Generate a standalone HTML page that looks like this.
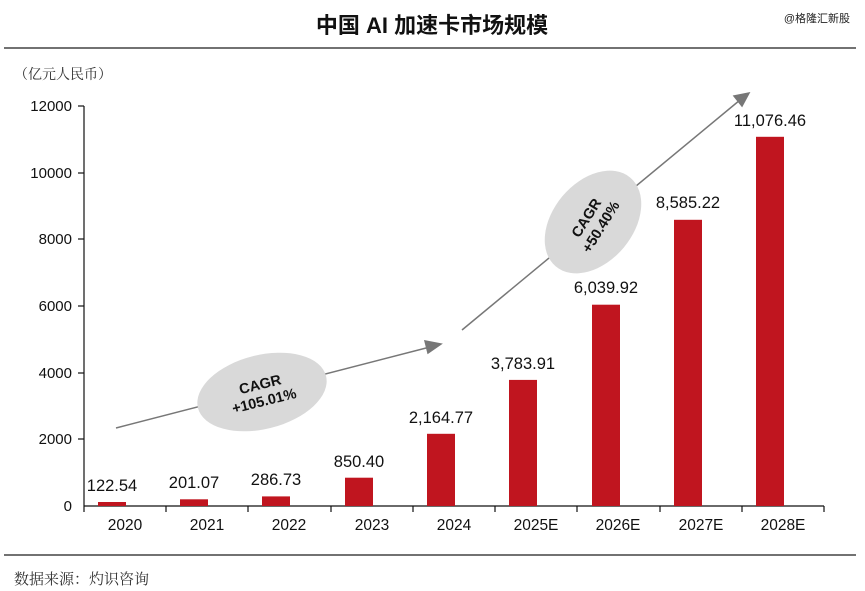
<!DOCTYPE html><html><head><meta charset="utf-8"><style>body{margin:0;background:#fff}svg{display:block}text{font-family:"Liberation Sans","Noto Sans CJK SC",sans-serif}</style></head><body>
<svg width="865" height="591" viewBox="0 0 865 591">
<text x="432" y="33" text-anchor="middle" font-size="22" font-weight="bold" fill="#111">中国 AI 加速卡市场规模</text>
<text x="850" y="22" text-anchor="end" font-size="11" fill="#222">@格隆汇新股</text>
<line x1="4" y1="48" x2="856" y2="48" stroke="#444" stroke-width="1.5"/>
<text x="14" y="79" font-size="14" fill="#333" style="font-family:'Liberation Serif','Noto Serif CJK SC',serif">（亿元人民币）</text>
<g font-size="15" fill="#111" text-anchor="end">
<text x="72" y="111">12000</text><text x="72" y="178">10000</text><text x="72" y="244">8000</text><text x="72" y="311">6000</text><text x="72" y="378">4000</text><text x="72" y="444">2000</text><text x="72" y="511">0</text></g>
<g stroke="#111" stroke-width="1.2">
<line x1="84" y1="106" x2="84" y2="506"/><line x1="84" y1="506" x2="824" y2="506"/>
<line x1="78" y1="106" x2="84" y2="106"/><line x1="78" y1="173" x2="84" y2="173"/><line x1="78" y1="239" x2="84" y2="239"/><line x1="78" y1="306" x2="84" y2="306"/><line x1="78" y1="373" x2="84" y2="373"/><line x1="78" y1="439" x2="84" y2="439"/>
<line x1="84" y1="506" x2="84" y2="512"/><line x1="166" y1="506" x2="166" y2="512"/><line x1="248" y1="506" x2="248" y2="512"/><line x1="331" y1="506" x2="331" y2="512"/><line x1="413" y1="506" x2="413" y2="512"/><line x1="495" y1="506" x2="495" y2="512"/><line x1="577" y1="506" x2="577" y2="512"/><line x1="660" y1="506" x2="660" y2="512"/><line x1="742" y1="506" x2="742" y2="512"/><line x1="824" y1="506" x2="824" y2="512"/>
</g>
<g fill="#c0151f">
<rect x="98" y="502" width="28" height="4"/><rect x="180" y="499.3" width="28" height="6.7"/><rect x="262" y="496.4" width="28" height="9.6"/><rect x="345" y="477.7" width="28" height="28.3"/><rect x="427" y="433.8" width="28" height="72.2"/><rect x="509" y="379.9" width="28" height="126.1"/><rect x="592" y="304.7" width="28" height="201.3"/><rect x="674" y="219.8" width="28" height="286.2"/><rect x="756" y="136.8" width="28" height="369.2"/>
</g>
<g font-size="16.5" fill="#111" text-anchor="middle">
<text x="112" y="491">122.54</text><text x="194" y="488">201.07</text><text x="276" y="485">286.73</text><text x="359" y="467">850.40</text><text x="441" y="423">2,164.77</text><text x="523" y="369">3,783.91</text><text x="606" y="293">6,039.92</text><text x="688" y="208">8,585.22</text><text x="770" y="126">11,076.46</text>
</g>
<g font-size="15.5" fill="#111" text-anchor="middle">
<text x="125" y="530">2020</text><text x="207" y="530">2021</text><text x="289" y="530">2022</text><text x="372" y="530">2023</text><text x="454" y="530">2024</text><text x="536" y="530">2025E</text><text x="618" y="530">2026E</text><text x="701" y="530">2027E</text><text x="783" y="530">2028E</text>
</g>
<g stroke="#777" stroke-width="1.5" fill="#777">
<line x1="116" y1="428" x2="430" y2="347"/><polygon points="441,344 428,353 425,341"/>
<line x1="462" y1="330" x2="740" y2="100"/><polygon points="749,93 742,106 734,96"/>
</g>
<ellipse cx="262" cy="392" rx="66" ry="37" transform="rotate(-14 262 392)" fill="#d9d9d9"/>
<g transform="rotate(-14 262 392)" font-size="14.5" font-weight="bold" fill="#111" text-anchor="middle"><text x="262" y="389">CAGR</text><text x="262" y="406">+105.01%</text></g>
<ellipse cx="593" cy="222" rx="58" ry="40" transform="rotate(-50 593 222)" fill="#d9d9d9"/>
<g transform="rotate(-58 593 222)" font-size="14.5" font-weight="bold" fill="#111" text-anchor="middle"><text x="593" y="219">CAGR</text><text x="593" y="236">+50.40%</text></g>
<line x1="4" y1="555" x2="856" y2="555" stroke="#444" stroke-width="1.5"/>
<text x="14" y="584" font-size="15" fill="#333" style="font-family:'Liberation Serif','Noto Serif CJK SC',serif">数据来源：灼识咨询</text>
</svg></body></html>
